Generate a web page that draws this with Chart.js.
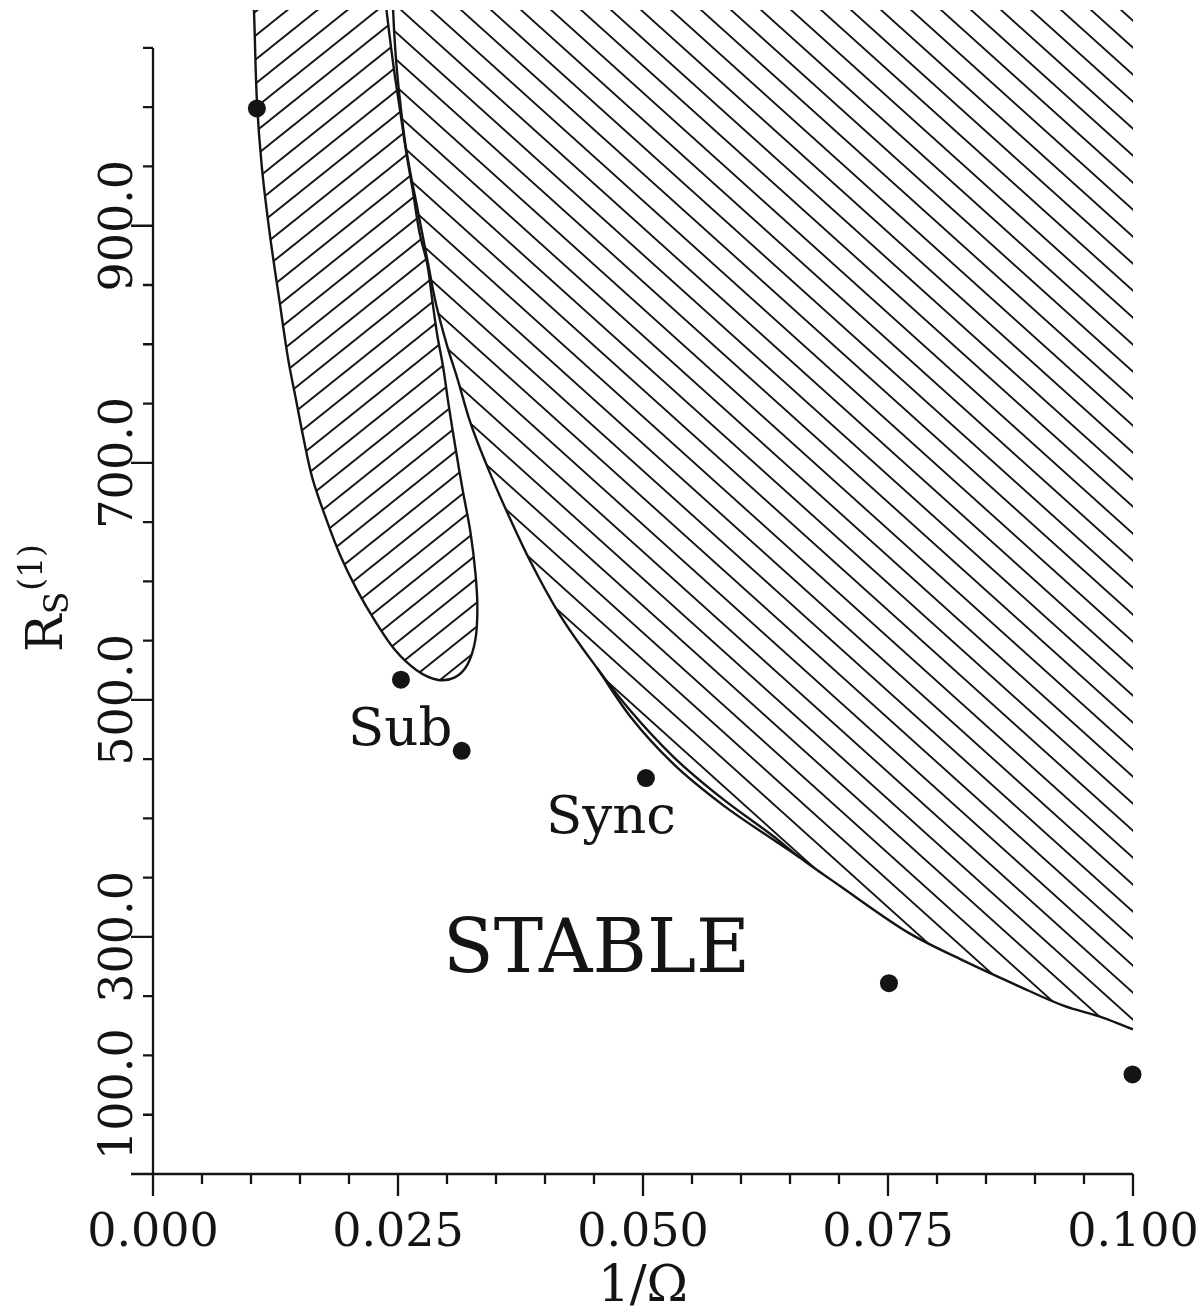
<!DOCTYPE html>
<html>
<head>
<meta charset="utf-8">
<script src="https://cdn.jsdelivr.net/npm/chart.js@4.4.1/dist/chart.umd.min.js"></script>
<style>
  html, body { margin: 0; padding: 0; background: #fff; }
  #wrap { width: 1204px; height: 1316px; }
</style>
</head>
<body>
<div id="wrap"><canvas id="myChart" width="1204" height="1316"></canvas></div>
<script>
// tick labels
var xMajor = [0, 0.025, 0.05, 0.075, 0.1];
var xTickLabels = ['0.000', '0.025', '0.050', '0.075', '0.100'];
var yMajor = [100, 300, 500, 700, 900];
var yTickLabels = ['100.0', '300.0', '500.0', '700.0', '900.0'];

// measured points (1/Omega, Rs)
var pointX = [0.0106, 0.0253, 0.0315, 0.0503, 0.0751, 0.09995];
var pointY = [999, 517, 457, 434, 261, 184];

// closed tongue (subharmonic region) outline
var subX = [0.0101, 0.0103, 0.0106, 0.0111, 0.0119, 0.0129, 0.0138, 0.0146, 0.0154, 0.0163,
            0.0177, 0.0191, 0.0208, 0.0227, 0.0247, 0.0269, 0.0290, 0.0308, 0.0321, 0.0329,
            0.0331, 0.0329, 0.0324, 0.0316, 0.0309, 0.0302, 0.0296, 0.0290, 0.0285, 0.0280,
            0.0272, 0.0265, 0.0258, 0.0252, 0.0246, 0.0241, 0.0237, 0.0234];
var subY = [1112, 1082, 1006, 950, 894, 837, 787, 753, 719, 686,
            652, 622, 593, 566, 542, 525, 517, 519, 530, 551,
            578, 607, 641, 677, 711, 747, 781, 808, 837, 867,
            894, 930, 964, 998, 1031, 1063, 1091, 1112];

// boundary of the synchronous unstable region
var syncX = [0.0244, 0.0245, 0.0248, 0.0252, 0.0257, 0.0263, 0.0269, 0.0280, 0.0288, 0.0300,
             0.0311, 0.0323, 0.0341, 0.0361, 0.0385, 0.0415, 0.0453, 0.0487, 0.0531, 0.0582,
             0.0633, 0.0660, 0.0701, 0.0772, 0.0827, 0.0882, 0.0929, 0.0969, 0.1000];
var syncY = [1112, 1082, 1040, 1006, 972, 943, 918, 871, 837, 799,
             770, 736, 697, 659, 617, 572, 527, 491, 452, 416,
             385, 367, 343, 303, 280, 259, 242, 232, 222];

// second branch just under the boundary
var lensX = [0.0453, 0.0487, 0.0531, 0.0582, 0.0633, 0.0660];
var lensY = [527, 486, 446, 411, 382, 367];

// text in the plot
var noteText = ['Sub', 'Sync', 'STABLE'];
var noteX = [0.0199, 0.0401, 0.0296];
var noteY = [462, 388, 270];

function toXY(xs, ys) {
  return xs.map(function (v, i) { return { x: v, y: ys[i] }; });
}

function isMajor(list, v) {
  for (var i = 0; i < list.length; i++) {
    if (Math.abs(list[i] - v) < 1e-9 * Math.max(1, Math.abs(v)) + 1e-9) return i;
  }
  return -1;
}

// diagonal hatch pattern, dir 1 = "/", dir -1 = "\"
function hatch(w, h, dir) {
  var c = document.createElement('canvas');
  c.width = w; c.height = h;
  var g = c.getContext('2d');
  g.strokeStyle = '#141414';
  g.lineWidth = 1.9;
  for (var k = -1; k <= 1; k++) {
    g.beginPath();
    if (dir > 0) {
      g.moveTo(-w, 2 * h + k * h);
      g.lineTo(2 * w, -h + k * h);
    } else {
      g.moveTo(-w, -h + k * h);
      g.lineTo(2 * w, 2 * h + k * h);
    }
    g.stroke();
  }
  return g.createPattern(c, 'repeat');
}

Chart.defaults.font.family = 'DejaVu Serif';
Chart.defaults.color = '#111';

var ink = '#141414';
var serif = 'DejaVu Serif';

var drawAxes = {
  id: 'drawAxes',
  afterDraw: function (chart) {
    var ctx = chart.ctx, xs = chart.scales.x, ys = chart.scales.y;
    var x0 = xs.getPixelForValue(0), x1 = xs.getPixelForValue(0.1);
    var yb = ys.getPixelForValue(100), yt = ys.getPixelForValue(1050);
    ctx.save();
    ctx.strokeStyle = ink;
    ctx.lineWidth = 2.3;
    ctx.beginPath();
    ctx.moveTo(x0, yt); ctx.lineTo(x0, yb);
    ctx.moveTo(x0, yb); ctx.lineTo(x1, yb);
    xs.ticks.forEach(function (t) {
      var p = xs.getPixelForValue(t.value);
      var len = isMajor(xMajor, t.value) >= 0 ? 22 : 10;
      ctx.moveTo(p, yb); ctx.lineTo(p, yb + len);
    });
    ys.ticks.forEach(function (t) {
      if (t.value > 1050.5) return;
      var p = ys.getPixelForValue(t.value);
      var len = isMajor(yMajor, t.value) >= 0 ? 22 : 10;
      ctx.moveTo(x0, p); ctx.lineTo(x0 - len, p);
    });
    ctx.stroke();

    // y tick labels, rotated
    ctx.fillStyle = ink;
    ctx.font = '46px "' + serif + '"';
    ctx.textBaseline = 'alphabetic';
    yMajor.forEach(function (v, i) {
      var p = ys.getPixelForValue(v);
      ctx.save();
      if (i === 0) {
        ctx.translate(132, p - 14);
        ctx.rotate(-Math.PI / 2);
        ctx.textAlign = 'left';
      } else {
        ctx.translate(132, p);
        ctx.rotate(-Math.PI / 2);
        ctx.textAlign = 'center';
      }
      ctx.fillText(yTickLabels[i], 0, 0);
      ctx.restore();
    });

    // y title R_S^(1)
    ctx.save();
    ctx.translate(62, 652);
    ctx.rotate(-Math.PI / 2);
    ctx.textAlign = 'left';
    ctx.font = '50px "' + serif + '"';
    ctx.fillText('R', 0, 0);
    var w = ctx.measureText('R').width;
    ctx.font = '33px "' + serif + '"';
    ctx.fillText('S', w, 6);
    var w2 = ctx.measureText('S').width;
    ctx.fillText('(1)', w + w2 + 1, -20);
    ctx.restore();

    // notes
    ctx.textAlign = 'left';
    noteText.forEach(function (s, i) {
      ctx.font = (s === 'STABLE' ? '74px "' : '53px "') + serif + '"';
      ctx.fillText(s, xs.getPixelForValue(noteX[i]), ys.getPixelForValue(noteY[i]));
    });
    ctx.restore();
  }
};

var ctx = document.getElementById('myChart').getContext('2d');
var chart = new Chart(ctx, {
  type: 'line',
  data: {
    datasets: [{
      label: 'points',
      data: toXY(pointX, pointY),
      showLine: false,
      pointRadius: 9,
      pointBackgroundColor: ink,
      pointBorderWidth: 0,
      clip: false
    }, {
      label: 'Sub',
      data: toXY(subX, subY),
      fill: 'shape',
      backgroundColor: hatch(30, 24, 1),
      borderColor: ink,
      borderWidth: 2.4,
      pointRadius: 0,
      tension: 0.35,
      clip: 0
    }, {
      label: 'lens',
      data: toXY(lensX, lensY),
      fill: false,
      borderColor: ink,
      borderWidth: 2.4,
      pointRadius: 0,
      cubicInterpolationMode: 'monotone',
      clip: 0
    }, {
      label: 'Sync',
      data: toXY(syncX, syncY),
      fill: 'end',
      backgroundColor: hatch(30, 27, -1),
      borderColor: ink,
      borderWidth: 2.4,
      pointRadius: 0,
      cubicInterpolationMode: 'monotone',
      clip: 0
    }]
  },
  options: {
    responsive: false,
    animation: false,
    events: [],
    layout: { padding: { left: 0, top: 10, right: 71, bottom: 0 } },
    plugins: { legend: { display: false }, tooltip: { enabled: false } },
    scales: {
      x: {
        type: 'linear',
        min: 0,
        max: 0.1,
        afterFit: function (s) { s.height = 142; s.paddingLeft = 0; s.paddingRight = 0; },
        grid: { display: false, drawTicks: true, tickLength: 10 },
        border: { display: false },
        ticks: {
          stepSize: 0.005,
          autoSkip: false,
          maxRotation: 0,
          padding: 22,
          color: ink,
          font: { size: 46, family: serif },
          callback: function (v) {
            var i = isMajor(xMajor, v);
            return i >= 0 ? xTickLabels[i] : '';
          }
        },
        title: {
          display: true,
          text: '1/\u03A9',
          color: ink,
          font: { size: 50, family: serif },
          padding: { top: 0, bottom: -2 }
        }
      },
      y: {
        type: 'linear',
        min: 100,
        max: 1082,
        afterFit: function (s) { s.width = 153; },
        grid: { display: false },
        border: { display: false },
        ticks: { stepSize: 50, includeBounds: false, display: false }
      }
    }
  },
  plugins: [drawAxes]
});
</script>
</body>
</html>
